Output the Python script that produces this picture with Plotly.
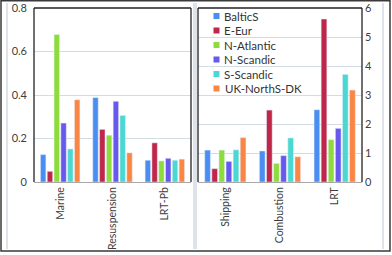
import plotly.graph_objects as go

W, H = 392, 255

categories_left = ["Marine", "Resuspension", "LRT-Pb"]
categories_right = ["Shipping", "Combustion", "LRT"]
series_names = ["BalticS", "E-Eur", "N-Atlantic", "N-Scandic", "S-Scandic", "UK-NorthS-DK"]
series_colors = ["#4a8ef2", "#c0264a", "#8edc3c", "#6758ee", "#4cd8d2", "#fb8644"]

baltics_left = [0.126, 0.388, 0.100]
eeur_left = [0.049, 0.242, 0.180]
natlantic_left = [0.678, 0.215, 0.097]
nscandic_left = [0.271, 0.371, 0.109]
sscandic_left = [0.152, 0.306, 0.100]
uk_left = [0.378, 0.134, 0.105]

baltics_right = [1.10, 1.07, 2.49]
eeur_right = [0.46, 2.48, 5.62]
natlantic_right = [1.10, 0.64, 1.46]
nscandic_right = [0.71, 0.91, 1.85]
sscandic_right = [1.11, 1.52, 3.71]
uk_right = [1.53, 0.87, 3.17]

left_ticks = [0, 0.2, 0.4, 0.6, 0.8]
right_ticks = [0, 1, 2, 3, 4, 5, 6]

left_values = [baltics_left, eeur_left, natlantic_left, nscandic_left, sscandic_left, uk_left]
right_values = [baltics_right, eeur_right, natlantic_right, nscandic_right, sscandic_right, uk_right]


def px(x):
    return x / W


def py(y):
    return 1 - y / H


FONT = "Lato"
TXT = "#404040"
GRID = "#d3dbe3"

fig = go.Figure()
for name, color, lv, rv in zip(series_names, series_colors, left_values, right_values):
    fig.add_trace(go.Bar(x=categories_left, y=lv, name=name, marker_color=color,
                         xaxis="x", yaxis="y", showlegend=False))
    fig.add_trace(go.Bar(x=categories_right, y=rv, name=name, marker_color=color,
                         xaxis="x2", yaxis="y2", showlegend=False))

ydom = [py(182), py(8)]
common_x = dict(showgrid=False, showline=True, linecolor="#a8a8a8", linewidth=1,
                ticks="", tickangle=-90, tickfont=dict(family=FONT, size=10.5, color=TXT),
                automargin=False, fixedrange=True)
common_y = dict(showgrid=True, gridcolor=GRID, gridwidth=1, zeroline=False,
                showline=False, ticks="", tickfont=dict(family=FONT, size=11, color=TXT),
                automargin=False, fixedrange=True)

fig.update_layout(
    width=W, height=H,
    margin=dict(l=0, r=0, t=0, b=0, autoexpand=False),
    paper_bgcolor="white", plot_bgcolor="white",
    barmode="group", bargap=0.22, bargroupgap=0.2,
    showlegend=False,
    xaxis=dict(domain=[px(34), px(191)], anchor="y", **common_x),
    yaxis=dict(domain=ydom, anchor="x", range=[0, 0.8], tickvals=left_ticks,
               ticktext=["0", "0.2", "0.4", "0.6", "0.8"], ticklabelstandoff=6, **common_y),
    xaxis2=dict(domain=[px(198), px(362)], anchor="y2", **common_x),
    yaxis2=dict(domain=ydom, anchor="x2", side="right", range=[0, 6], tickvals=right_ticks,
                ticklabelstandoff=2, **common_y),
)

shapes = []
# plot-area frames (left, top, right in black)
for xr, yr in (("x domain", "y domain"), ("x2 domain", "y2 domain")):
    for x0, y0, x1, y1 in ((0, 0, 0, 1), (0, 1, 1, 1), (1, 1, 1, 0)):
        shapes.append(dict(type="line", xref=xr, yref=yr, x0=x0, y0=y0, x1=x1, y1=y1,
                           line=dict(color="#222222", width=1.3), layer="above"))
# panel separator lines
for xv in (7, 194, 196, 383):
    shapes.append(dict(type="line", xref="paper", yref="paper", x0=px(xv), x1=px(xv),
                       y0=py(3), y1=py(249), line=dict(color="#d2dae2", width=1.5)))
# outer border
shapes.append(dict(type="rect", xref="paper", yref="paper", x0=px(1), x1=px(390),
                   y0=py(251), y1=py(0.8), line=dict(color="#3a3a3a", width=1.5)))

# legend (manual, compact)
annotations = []
row_y0, row_dy = 16, 14.5
for i, (name, color) in enumerate(zip(series_names, series_colors)):
    yc = row_y0 + i * row_dy
    shapes.append(dict(type="rect", xref="paper", yref="paper",
                       x0=px(213.5), x1=px(219.5), y0=py(yc + 3), y1=py(yc - 3),
                       line=dict(width=0), fillcolor=color, layer="above"))
    annotations.append(dict(xref="paper", yref="paper", x=px(222.5), y=py(yc),
                            xanchor="left", yanchor="middle", showarrow=False,
                            text=name, font=dict(family=FONT, size=11.5, color="#333333")))

fig.update_layout(shapes=shapes, annotations=annotations)
fig.write_html(
    "out.html",
    config={"displayModeBar": False, "staticPlot": True},
    post_script="document.body.style.margin='0';document.body.style.padding='0';"
                "document.body.style.overflow='hidden';",
)
